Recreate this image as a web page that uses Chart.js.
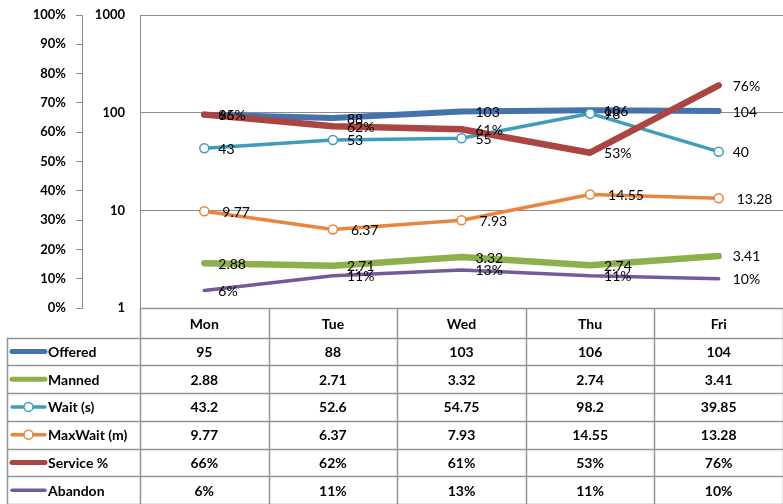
<!DOCTYPE html>
<html><head><meta charset="utf-8">
<script src="https://cdn.jsdelivr.net/npm/chart.js@4/dist/chart.umd.min.js"></script>
<style>
html,body{margin:0;padding:0;background:#fff;overflow:hidden;width:783px;height:504px}
#wrap{width:789px;height:504px}
canvas{display:block}
</style></head>
<body><div id="wrap"><canvas id="c" width="789" height="504"></canvas></div>
<script>
// ---- data ----
const categories = ['Mon', 'Tue', 'Wed', 'Thu', 'Fri'];
const offered    = [95, 88, 103, 106, 104];
const manned     = [2.88, 2.71, 3.32, 2.74, 3.41];
const waitSec    = [43.2, 52.6, 54.75, 98.2, 39.85];
const maxWaitMin = [9.77, 6.37, 7.93, 14.55, 13.28];
const servicePct = [0.66, 0.62, 0.61, 0.53, 0.76];
const abandonPct = [0.06, 0.11, 0.13, 0.11, 0.10];
const logTickValues = [1, 10, 100, 1000];

const pctFmt = v => Math.round(v * 100) + '%';
const FONT = 'Lato, "Liberation Sans", sans-serif';
const GRID = '#8c8c8c';
const TABLE_LINE = '#959595';

const datasets = [
  { label: 'Offered', data: offered, yAxisID: 'yLog', borderColor: '#4472AC', borderWidth: 6, pointRadius: 0, order: 6,
    labelFmt: v => String(v), tableFmt: v => String(v), labelDx: 14, keyWidth: 5 },
  { label: 'Manned', data: manned, yAxisID: 'yLog', borderColor: '#8DB04C', borderWidth: 6.5, pointRadius: 0, order: 5,
    labelFmt: v => v.toFixed(2), tableFmt: v => v.toFixed(2), labelDx: 14, keyWidth: 5 },
  { label: 'Wait (s)', data: waitSec, yAxisID: 'yLog', borderColor: '#3E9DB9', borderWidth: 3.5, pointRadius: 4.5,
    pointBackgroundColor: '#fff', pointBorderColor: '#3E9DB9', pointBorderWidth: 1.5, order: 4,
    labelFmt: v => String(Math.round(v)), tableFmt: v => String(v), labelDx: 14, keyWidth: 3.5, marker: true },
  { label: 'MaxWait (m)', data: maxWaitMin, yAxisID: 'yLog', borderColor: '#E9853C', borderWidth: 3.5, pointRadius: 4.5,
    pointBackgroundColor: '#fff', pointBorderColor: '#E9853C', pointBorderWidth: 1.5, order: 3,
    labelFmt: v => v.toFixed(2), tableFmt: v => v.toFixed(2), labelDx: 18, keyWidth: 3.5, marker: true },
  { label: 'Service %', data: servicePct, yAxisID: 'yPct', borderColor: '#AA4542', borderWidth: 6.5, pointRadius: 0, order: 2,
    labelFmt: pctFmt, tableFmt: pctFmt, labelDx: 14, keyWidth: 5 },
  { label: 'Abandon', data: abandonPct, yAxisID: 'yPct', borderColor: '#745A98', borderWidth: 3.5, pointRadius: 0, order: 1,
    labelFmt: pctFmt, tableFmt: pctFmt, labelDx: 14, keyWidth: 3.5 }
];
datasets.forEach(d => { d.fill = false; d.tension = 0; d.borderCapStyle = 'round'; d.borderJoinStyle = 'round'; d.clip = false; });

const labelPlugin = {
  id: 'pointLabels',
  afterDatasetsDraw(chart) {
    const ctx = chart.ctx;
    ctx.save();
    ctx.font = '14px ' + FONT;
    ctx.fillStyle = '#000';
    ctx.textAlign = 'left';
    ctx.textBaseline = 'middle';
    chart.data.datasets.forEach((ds, i) => {
      const meta = chart.getDatasetMeta(i);
      meta.data.forEach((pt, j) => {
        ctx.fillText(ds.labelFmt(ds.data[j]), pt.x + ds.labelDx, pt.y + 1);
      });
    });
    ctx.restore();
  }
};

const tablePlugin = {
  id: 'dataTable',
  afterDraw(chart) {
    const ctx = chart.ctx;
    const xs = chart.scales.x;
    const area = chart.chartArea;
    const n = categories.length;
    const colW = (area.right - area.left) / n;
    const top = Math.round(area.bottom) + 0.5;
    const headH = 29;
    const rowsTop = top + headH;
    const rowH = (chart.height - rowsTop) / datasets.length;
    const keyLeft = 7.5;
    ctx.save();
    ctx.strokeStyle = TABLE_LINE;
    ctx.lineWidth = 1.5;
    ctx.beginPath();
    ctx.moveTo(area.left, top); ctx.lineTo(chart.width, top);
    for (let i = 0; i <= n; i++) {
      const x = Math.round(area.left + i * colW) + 0.5;
      ctx.moveTo(x, top); ctx.lineTo(x, chart.height);
    }
    ctx.moveTo(keyLeft, rowsTop); ctx.lineTo(keyLeft, chart.height);
    for (let r = 0; r <= datasets.length; r++) {
      const y = Math.round(rowsTop + r * rowH) + 0.5;
      ctx.moveTo(keyLeft, y); ctx.lineTo(chart.width, y);
    }
    ctx.stroke();

    ctx.font = 'bold 14px ' + FONT;
    ctx.fillStyle = '#000';
    ctx.textBaseline = 'middle';
    ctx.textAlign = 'center';
    categories.forEach((c, i) => {
      ctx.fillText(c, xs.getPixelForValue(i), top + headH / 2 + 1);
    });
    chart.data.datasets.forEach((ds, r) => {
      const cy = rowsTop + r * rowH + rowH / 2 + 1;
      ctx.textAlign = 'center';
      ds.data.forEach((v, i) => ctx.fillText(ds.tableFmt(v), xs.getPixelForValue(i), cy));
      ctx.save();
      ctx.strokeStyle = ds.borderColor;
      ctx.lineWidth = ds.keyWidth;
      ctx.lineCap = 'round';
      ctx.beginPath(); ctx.moveTo(12, cy - 1); ctx.lineTo(45, cy - 1); ctx.stroke();
      if (ds.marker) {
        ctx.beginPath(); ctx.arc(28.5, cy - 1, 4.5, 0, Math.PI * 2);
        ctx.fillStyle = '#fff'; ctx.fill();
        ctx.lineWidth = 1.5; ctx.stroke();
      }
      ctx.restore();
      ctx.textAlign = 'left';
      ctx.fillText(ds.label, 48, cy);
    });
    ctx.restore();
  }
};

const noPad = s => { s.paddingTop = 0; s.paddingBottom = 0; };

new Chart(document.getElementById('c'), {
  type: 'line',
  data: { labels: categories, datasets },
  plugins: [labelPlugin, tablePlugin],
  options: {
    responsive: false,
    animation: false,
    devicePixelRatio: 1,
    layout: { padding: { top: 15, bottom: 196, left: 0, right: 0 } },
    plugins: { legend: { display: false }, tooltip: { enabled: false } },
    scales: {
      x: { type: 'category', display: false, offset: true },
      yPct: {
        position: 'left', weight: 2, type: 'linear', min: 0, max: 1,
        border: { display: true, color: GRID, width: 1 },
        grid: { drawOnChartArea: false, drawTicks: true, tickLength: 6, color: GRID },
        ticks: { stepSize: 0.1, padding: 10, color: '#000', font: { family: FONT, size: 13, weight: 'bold' },
                 callback: v => pctFmt(v) },
        afterFit: s => { s.width = 82; noPad(s); }
      },
      yLog: {
        position: 'left', weight: 1, type: 'logarithmic', min: 1, max: 1000,
        border: { display: true, color: GRID, width: 1 },
        grid: { drawOnChartArea: true, drawTicks: false, color: GRID, lineWidth: 1 },
        ticks: { padding: 15, color: '#000', font: { family: FONT, size: 13, weight: 'bold' },
                 callback: v => String(v) },
        afterBuildTicks: s => { s.ticks = logTickValues.map(v => ({ value: v })); },
        afterFit: s => { s.width = 58; noPad(s); }
      }
    }
  }
});
</script>
</body></html>
